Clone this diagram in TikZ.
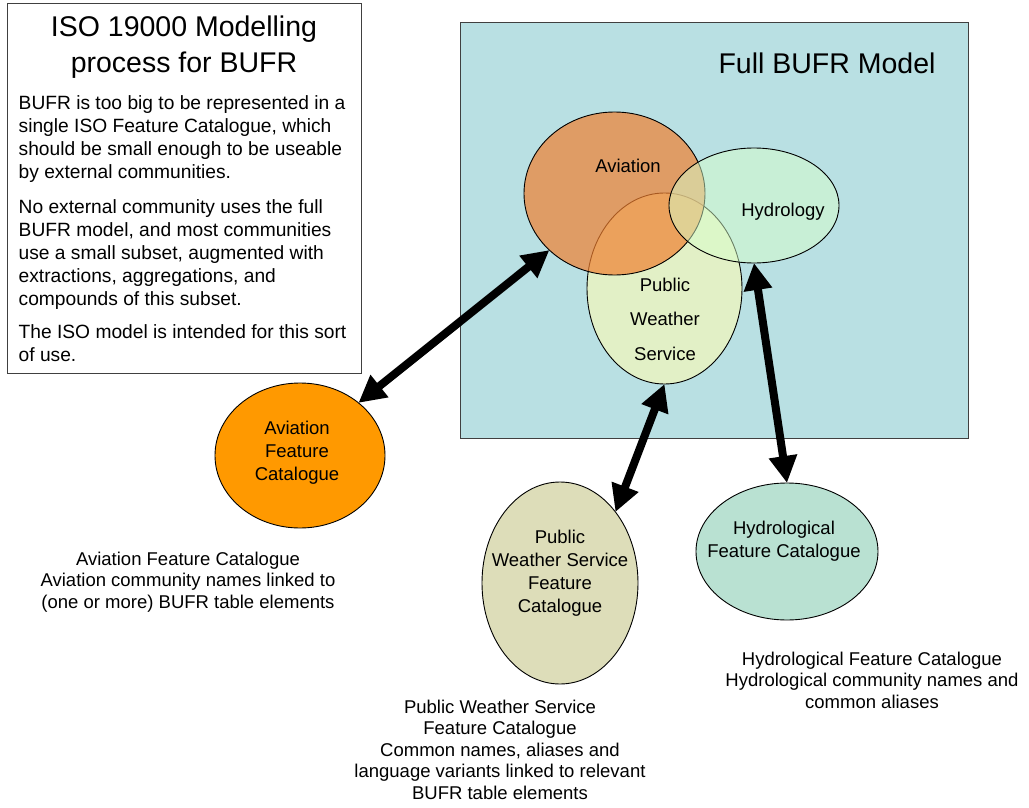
\documentclass[tikz,border=0pt]{standalone}
\usepackage{fontspec}
\setmainfont{Liberation Sans}
\usetikzlibrary{arrows.meta,shapes.geometric}
\definecolor{modelblue}{RGB}{185,224,227}
\definecolor{aviafill}{RGB}{240,128,48}
\definecolor{pwsfill}{RGB}{226,240,198}
\definecolor{hydrofill}{RGB}{215,255,203}
\definecolor{aviacat}{RGB}{255,153,0}
\definecolor{pwscat}{RGB}{221,221,185}
\definecolor{hydrocat}{RGB}{185,225,210}
\definecolor{boxline}{RGB}{64,64,64}
\begin{document}
\begin{tikzpicture}[x=1pt,y=-1pt,
  bodyfont/.style={font=\fontsize{18.5}{23}\selectfont},
  boxfont/.style={font=\fontsize{19.2}{23}\selectfont},
  titlefont/.style={font=\fontsize{28.5}{35.5}\selectfont},
  blob/.style={ellipse,draw=black,line width=0.9pt,inner sep=0pt,outer sep=0pt},
  cattext/.style={align=center,font=\fontsize{18.5}{23}\selectfont,inner sep=0pt},
  note/.style={align=center,font=\fontsize{18.5}{21.5}\selectfont},
  bigarrow/.style={line width=8pt,{Triangle[length=27pt,width=27pt]}-{Triangle[length=27pt,width=27pt]}},
  para/.style={boxfont,anchor=base west,align=left,inner sep=0pt}]
\useasboundingbox (0,0) rectangle (1029,808);
% explanatory box
\node[draw=boxline,line width=1.2pt,rectangle,anchor=north west,minimum width=354pt,minimum height=370pt,inner sep=0pt] (textbox) at (7,3) {};
\node[titlefont,align=center,anchor=base,inner sep=0pt] (title) at (184,72.3) {ISO 19000 Modelling\\process for BUFR};
\node[para] (p1) at (18.5,178) {BUFR is too big to be represented in a\\single ISO Feature Catalogue, which\\should be small enough to be useable\\by external communities.};
\node[para] (p2) at (18.5,305) {No external community uses the full\\BUFR model, and most communities\\use a small subset, augmented with\\extractions, aggregations, and\\compounds of this subset.};
\node[para] (p3) at (18.5,361.5) {The ISO model is intended for this sort\\of use.};
% full model
\node[draw=boxline,line width=1pt,fill=modelblue,rectangle,anchor=north west,minimum width=508pt,minimum height=416pt,inner sep=0pt] (model) at (460,22) {};
\node[font=\fontsize{28.5}{32}\selectfont,inner sep=0pt] (modellabel) at (827,63) {Full BUFR Model};
% Venn
\node[blob,fill=pwsfill,minimum width=155pt,minimum height=191pt] (pwsE) at (664.5,288.5) {};
\node[blob,fill=aviafill,fill opacity=0.7,minimum width=181pt,minimum height=163pt] (avE) at (614.5,193.5) {};
\node[blob,fill=hydrofill,fill opacity=0.5,minimum width=170pt,minimum height=115pt] (hyE) at (754,205.5) {};
\node[bodyfont,inner sep=0pt] (avL) at (628,166) {Aviation};
\node[bodyfont,inner sep=0pt] (hyL) at (783,212) {Hydrology};
\node[align=center,font=\fontsize{18.5}{34.5}\selectfont,inner sep=0pt] (pwsL) at (665,319) {Public\\Weather\\Service};
% catalogues
\node[blob,fill=aviacat,minimum width=170pt,minimum height=145pt] (avC) at (300,455.5) {};
\node[cattext] (avCL) at (297,453) {Aviation\\Feature\\Catalogue};
\node[blob,fill=pwscat,minimum width=156pt,minimum height=202pt] (pwsC) at (560,583) {};
\node[cattext] (pwsCL) at (560,573) {Public\\Weather Service\\Feature\\Catalogue};
\node[blob,fill=hydrocat,minimum width=182pt,minimum height=137pt] (hyC) at (787,551.5) {};
\node[cattext] (hyCL) at (784,541.5) {Hydrological\\Feature Catalogue};
% arrows
\draw[bigarrow] (avE.221.8) -- (avC.42.6);
\draw[bigarrow] (pwsE.270) -- (pwsC.52);
\draw[bigarrow] (hyE.270) -- (hyC.90);
% notes
\node[note,anchor=base,inner sep=0pt] (avN) at (188,608) {Aviation Feature Catalogue\\Aviation community names linked to\\(one or more) BUFR table elements};
\node[note,anchor=base,inner sep=0pt] (pwsN) at (500,799) {Public Weather Service\\Feature Catalogue\\Common names, aliases and\\language variants linked to relevant\\BUFR table elements};
\node[note,anchor=base,inner sep=0pt] (hyN) at (872,708) {Hydrological Feature Catalogue\\Hydrological community names and\\common aliases};
\end{tikzpicture}
\end{document}
